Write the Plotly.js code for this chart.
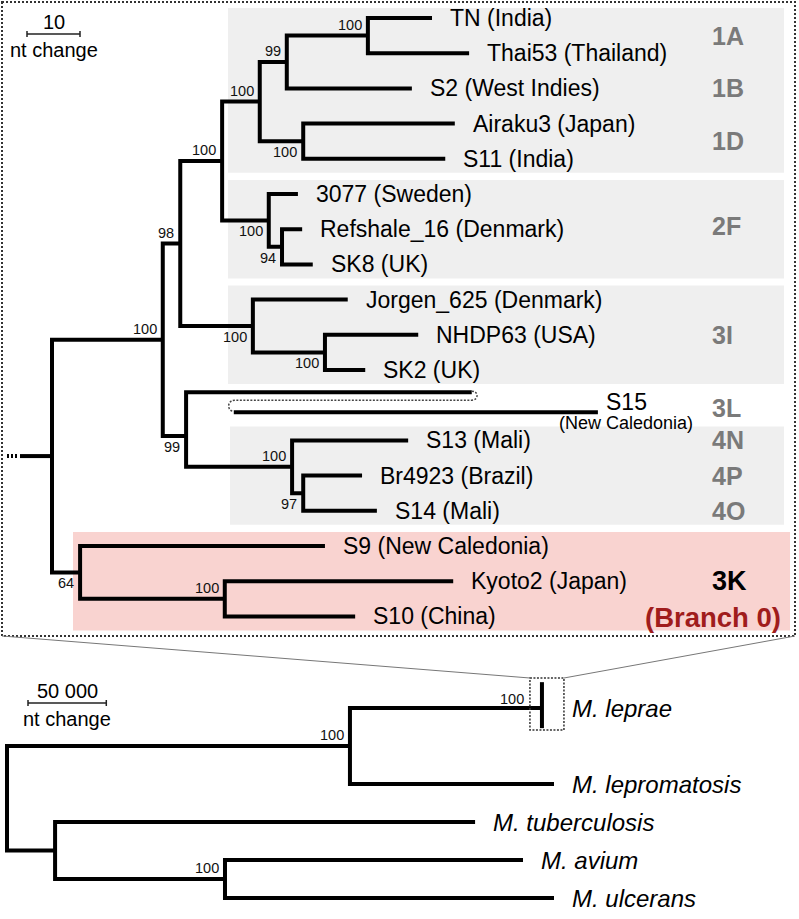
<!DOCTYPE html>
<html><head><meta charset="utf-8">
<script src="https://cdn.plot.ly/plotly-3.0.1.min.js"></script>
<style>html,body{margin:0;padding:0;background:#fff;} #chart{width:799px;height:919px;}</style>
</head><body><div id="chart"></div>
<script>
// ================= DATA =================
// Top tree: M. leprae strains (depths in nt change from the strain-tree root)
const leafNames = ['TN (India)', 'Thai53 (Thailand)', 'S2 (West Indies)', 'Airaku3 (Japan)', 'S11 (India)',
  '3077 (Sweden)', 'Refshale_16 (Denmark)', 'SK8 (UK)', 'Jorgen_625 (Denmark)', 'NHDP63 (USA)', 'SK2 (UK)',
  'S15', 'S13 (Mali)', 'Br4923 (Brazil)', 'S14 (Mali)', 'S9 (New Caledonia)', 'Kyoto2 (Japan)', 'S10 (China)'];
const leafDepth = [71.7, 78.7, 67.9, 76.0, 74.2, 46.4, 47.2, 49.2, 55.8, 69.1, 59.1, 103.0, 67.2, 58.5, 61.3, 51.5, 75.7, 57.2];
const s15Subtitle = '(New Caledonia)';
const brokenLeaf = 11;          // S15: long branch drawn broken
const s15BreakDepth = 79.2;     // end of first drawn piece
const s15ResumeDepth = 34.3;    // start of continued piece

const nodeIds      = ['R', 'A', 'B', 'C', 'D', 'E', 'F', 'G', 'H', 'I', 'J', 'K', 'L', 'M', 'N', 'O', 'P'];
const nodeDepth    = [0, 20.9, 24.2, 32.1, 39.2, 44.3, 59.6, 47.4, 40.9, 43.4, 37.9, 51.5, 25.3, 45.3, 47.4, 5.3, 32.6];
const nodeChildren = [['A','O'], ['B','L'], ['C','J'], ['D','H'], ['E','G'], ['F',2], [0,1], [3,4], [5,'I'], [6,7],
                      [8,'K'], [9,10], [11,'M'], [12,'N'], [13,14], [15,'P'], [16,17]];
const nodeSupport  = [null, 100, 98, 100, 100, 99, 100, 100, 100, 94, 100, 100, 99, 100, 97, 64, 100];

const groupNames  = ['1A', '1B', '1D', '2F', '3I', '3L', '4N', '4P', '4O', '3K'];
const groupLeaves = [[0,1], [2], [3,4], [5,6,7], [8,9,10], [11], [12], [13], [14], [15,16,17]];
const branchLabel = '(Branch 0)';
const shadeLeaves = [[0,4], [5,7], [8,10], [12,14], [15,17]];
const topScaleLen = 10;

// Bottom tree: Mycobacteria (depths in nt change)
const outNames = ['M. leprae', 'M. lepromatosis', 'M. tuberculosis', 'M. avium', 'M. ulcerans'];
const outDepth = [341600, 349300, 298900, 329500, 349300];
const outOrder = [0, 2, 3, 4, 5];
const outNodeIds      = ['root', 'Q', 'S', 'T'];
const outNodeDepth    = [0, 219000, 30700, 139200];
const outNodeChildren = [['Q','S'], [0,1], [2,'T'], [3,4]];
const outNodeSupport  = [null, 100, null, 100];
const lepraeSupport = 100;
const bottomScaleLen = 50000;

// ================= LAYOUT HELPERS =================
const W = 799, H = 919;
const FONT = 'Liberation Sans, Arial, Helvetica, sans-serif';
const TM = {x0: 52, kx: 5.3, y0: 18, ky: 35.2};          // top tree mapping (px per unit)
const BM = {x0: 7, kx: 78.3 / 50000, y0: 708, ky: 38};    // bottom tree mapping
const toPx = (m, d) => m.x0 + d * m.kx;
const toPy = (m, r) => m.y0 + r * m.ky;
const fromPx = (m, px) => (px - m.x0) / m.kx;
const fromPy = (m, py) => (py - m.y0) / m.ky;
const PX = px => px / W, PY = py => 1 - py / H;

// ---- top tree geometry ----
const tIdx = {}; nodeIds.forEach((id, i) => tIdx[id] = i);
const tRowCache = {};
function tRow(c) {
  if (typeof c === 'number') return c;
  if (tRowCache[c] !== undefined) return tRowCache[c];
  const ch = nodeChildren[tIdx[c]];
  return (tRowCache[c] = (tRow(ch[0]) + tRow(ch[1])) / 2);
}
const tDepth = c => typeof c === 'number' ? leafDepth[c] : nodeDepth[tIdx[c]];
const S15_UP = -0.37, S15_DOWN = 0.2;
const drawRow = c => c === brokenLeaf ? c + S15_UP : tRow(c);
const drawEnd = c => c === brokenLeaf ? s15BreakDepth : tDepth(c);

const tx = [], ty = [];
nodeIds.forEach((id, i) => {
  const [a, b] = nodeChildren[i];
  const d = nodeDepth[i];
  tx.push(drawEnd(a), d, d, drawEnd(b), null);
  ty.push(drawRow(a), drawRow(a), drawRow(b), drawRow(b), null);
});
// root stub
const rootRow = tRow('R');
tx.push(fromPx(TM, 20), nodeDepth[0], null);
ty.push(rootRow, rootRow, null);
// S15 continued piece
tx.push(s15ResumeDepth, leafDepth[brokenLeaf], null);
ty.push(brokenLeaf + S15_DOWN, brokenLeaf + S15_DOWN, null);

// ---- bottom tree geometry ----
const bIdx = {}; outNodeIds.forEach((id, i) => bIdx[id] = i);
const bRowCache = {};
function bRow(c) {
  if (typeof c === 'number') return outOrder[c];
  if (bRowCache[c] !== undefined) return bRowCache[c];
  const ch = outNodeChildren[bIdx[c]];
  return (bRowCache[c] = (bRow(ch[0]) + bRow(ch[1])) / 2);
}
const bDepth = c => typeof c === 'number' ? outDepth[c] : outNodeDepth[bIdx[c]];
const bx = [], by = [];
outNodeIds.forEach((id, i) => {
  const [a, b] = outNodeChildren[i];
  const d = outNodeDepth[i];
  bx.push(bDepth(a), d, d, bDepth(b), null);
  by.push(bRow(a), bRow(a), bRow(b), bRow(b), null);
});
// collapsed M. leprae clade bar
bx.push(outDepth[0], outDepth[0], null);
by.push(outOrder[0] - 0.68, outOrder[0] + 0.53, null);

// ---- scale bars ----
const tsX = fromPx(TM, 27), tsY = fromPy(TM, 34), tTick = 3 / TM.ky;
const bsX = fromPx(BM, 28), bsY = fromPy(BM, 703), bTick = 3 / BM.ky;

const lineStyle = {color: '#000', width: 4};
const traces = [
  {type: 'scatter', mode: 'lines', x: tx, y: ty, xaxis: 'x', yaxis: 'y', line: lineStyle, hoverinfo: 'skip'},
  {type: 'scatter', mode: 'lines', x: [fromPx(TM, 7), fromPx(TM, 19)], y: [rootRow, rootRow], xaxis: 'x', yaxis: 'y',
   line: {color: '#000', width: 4, dash: '2px,2px'}, hoverinfo: 'skip'},
  {type: 'scatter', mode: 'lines', x: bx, y: by, xaxis: 'x2', yaxis: 'y2', line: lineStyle, hoverinfo: 'skip'},
  {type: 'scatter', mode: 'lines', xaxis: 'x', yaxis: 'y', hoverinfo: 'skip', line: {color: '#222', width: 1.5},
   x: [tsX, tsX + topScaleLen, null, tsX, tsX, null, tsX + topScaleLen, tsX + topScaleLen],
   y: [tsY, tsY, null, tsY - tTick, tsY + tTick, null, tsY - tTick, tsY + tTick]},
  {type: 'scatter', mode: 'lines', xaxis: 'x2', yaxis: 'y2', hoverinfo: 'skip', line: {color: '#222', width: 1.5},
   x: [bsX, bsX + bottomScaleLen, null, bsX, bsX, null, bsX + bottomScaleLen, bsX + bottomScaleLen],
   y: [bsY, bsY, null, bsY - bTick, bsY + bTick, null, bsY - bTick, bsY + bTick]}
];

// ---- shapes ----
const shapes = [];
const shadeX = [[228, 784], [228, 784], [228, 784], [230, 784], [73, 790]];
const shadeCol = ['#efefef', '#efefef', '#efefef', '#efefef', '#f9d3d0'];
const shadePad = [[10, 14], [14, 14], [14, 14], [14, 14], [14, 14]];
shadeLeaves.forEach((g, i) => {
  shapes.push({type: 'rect', xref: 'paper', yref: 'paper', layer: 'below',
    x0: PX(shadeX[i][0]), x1: PX(shadeX[i][1]),
    y0: PY(toPy(TM, g[0]) - shadePad[i][0]), y1: PY(toPy(TM, g[1]) + shadePad[i][1]),
    fillcolor: shadeCol[i], line: {width: 0}});
});
// outer dotted frame
const FR = {l: 2, t: 2, r: 795, b: 636};
shapes.push({type: 'rect', xref: 'paper', yref: 'paper', x0: PX(FR.l), x1: PX(FR.r), y0: PY(FR.t), y1: PY(FR.b),
  line: {color: '#333', width: 2, dash: '2px,2px'}, fillcolor: 'rgba(0,0,0,0)'});
// dotted box around collapsed M. leprae
const lpx = toPx(BM, outDepth[0]), lpy = toPy(BM, outOrder[0]);
const LB = {l: lpx - 12, r: lpx + 22, t: lpy - 30, b: lpy + 22};
shapes.push({type: 'rect', xref: 'paper', yref: 'paper', x0: PX(LB.l), x1: PX(LB.r), y0: PY(LB.t), y1: PY(LB.b),
  line: {color: '#333', width: 1.5, dash: '2px,1.5px'}, fillcolor: 'rgba(0,0,0,0)'});
// zoom funnel lines
shapes.push({type: 'line', xref: 'paper', yref: 'paper', x0: PX(FR.l), y0: PY(FR.b), x1: PX(LB.l), y1: PY(LB.t),
  line: {color: '#777', width: 1}});
shapes.push({type: 'line', xref: 'paper', yref: 'paper', x0: PX(FR.r), y0: PY(FR.b), x1: PX(LB.r), y1: PY(LB.t),
  line: {color: '#777', width: 1}});
// S15 broken-branch dotted loop
const bX = toPx(TM, s15BreakDepth), rX = toPx(TM, s15ResumeDepth);
const uY = toPy(TM, brokenLeaf + S15_UP), lY = toPy(TM, brokenLeaf + S15_DOWN);
const P = (x, y) => PX(x).toFixed(5) + ',' + PY(y).toFixed(5);
shapes.push({type: 'path', xref: 'paper', yref: 'paper',
  path: 'M' + P(bX, uY - 1) + ' C' + P(bX + 7, uY - 1) + ' ' + P(bX + 7, uY + 8) + ' ' + P(bX, uY + 8) +
        ' L' + P(rX + 1, uY + 8) + ' C' + P(rX - 7, uY + 8) + ' ' + P(rX - 7, lY - 1) + ' ' + P(rX, lY - 1),
  line: {color: '#444', width: 1.5, dash: '2px,1.5px'}});

// ---- annotations ----
const ann = [];
const txt = (o) => Object.assign({showarrow: false, xref: 'x', yref: 'y'}, o);
leafNames.forEach((n, i) => {
  if (i === brokenLeaf) {
    ann.push(txt({x: leafDepth[i], y: i, text: n, xanchor: 'left', xshift: 6, yshift: 3, font: {size: 23, color: '#000'}}));
    ann.push(txt({x: leafDepth[i], y: i, text: s15Subtitle, xanchor: 'left', xshift: -41, yshift: -18, font: {size: 18, color: '#000'}}));
  } else {
    ann.push(txt({x: leafDepth[i], y: i, text: n, xanchor: 'left', xshift: 16, font: {size: 23, color: '#000'}}));
  }
});
const supSide = [0, -1, -1, -1, -1, -1, -1, 1, 1, 1, 1, 1, 1, -1, 1, 1, -1];  // -1 above, +1 below
nodeIds.forEach((id, i) => {
  if (nodeSupport[i] == null) return;
  ann.push(txt({x: nodeDepth[i], y: tRow(id), text: String(nodeSupport[i]), xanchor: 'right', xshift: -4,
    yshift: -supSide[i] * 11, font: {size: 14.5, color: '#111'}}));
});
groupNames.forEach((g, i) => {
  const rows = groupLeaves[i];
  const r = rows.reduce((s, v) => s + v, 0) / rows.length;
  const isK = g === '3K';
  ann.push({showarrow: false, xref: 'paper', yref: 'y', x: PX(710), y: r, xanchor: 'left',
    yshift: g === '3L' ? -3 : (g === '2F' ? 3 : 0),
    text: '<b>' + g + '</b>', font: {size: isK ? 27 : 25, color: isK ? '#000' : '#7a7a7a'}});
});
ann.push({showarrow: false, xref: 'paper', yref: 'y', x: PX(643), y: 17, xanchor: 'left', yshift: -1,
  text: '<b>' + branchLabel + '</b>', font: {size: 27.5, color: '#a01c1c'}});
// scale bar labels
ann.push(txt({x: tsX + topScaleLen / 2, y: tsY, text: String(topScaleLen), yshift: 12, font: {size: 20, color: '#000'}}));
ann.push(txt({x: tsX + topScaleLen / 2, y: tsY, text: 'nt change', yshift: -16, font: {size: 20, color: '#000'}}));
const t2 = (o) => Object.assign({showarrow: false, xref: 'x2', yref: 'y2'}, o);
ann.push(t2({x: bsX + bottomScaleLen / 2, y: bsY, text: '50 000', yshift: 12, font: {size: 20, color: '#000'}}));
ann.push(t2({x: bsX + bottomScaleLen / 2, y: bsY, text: 'nt change', yshift: -16, font: {size: 20, color: '#000'}}));
// bottom tree labels
outNames.forEach((n, i) => {
  ann.push(t2({x: outDepth[i], y: outOrder[i], text: '<i>' + n + '</i>', xanchor: 'left', xshift: i === 0 ? 28 : 16,
    font: {size: 24, color: '#000'}}));
});
outNodeIds.forEach((id, i) => {
  if (outNodeSupport[i] == null) return;
  ann.push(t2({x: outNodeDepth[i], y: bRow(id), text: String(outNodeSupport[i]), xanchor: 'right', xshift: -4, yshift: 11,
    font: {size: 14.5, color: '#111'}}));
});
ann.push(t2({x: outDepth[0], y: outOrder[0], text: String(lepraeSupport), xanchor: 'right', xshift: -16, yshift: 9,
  font: {size: 14.5, color: '#111'}}));

const layout = {
  width: W, height: H, margin: {l: 0, r: 0, t: 0, b: 0, pad: 0},
  paper_bgcolor: '#fff', plot_bgcolor: 'rgba(0,0,0,0)', showlegend: false,
  font: {family: FONT, color: '#000'},
  xaxis: {domain: [0, 1], range: [fromPx(TM, 0), fromPx(TM, W)], visible: false, fixedrange: true},
  yaxis: {domain: [0, 1], range: [fromPy(TM, H), fromPy(TM, 0)], visible: false, fixedrange: true},
  xaxis2: {overlaying: 'x', range: [fromPx(BM, 0), fromPx(BM, W)], visible: false, fixedrange: true},
  yaxis2: {overlaying: 'y', range: [fromPy(BM, H), fromPy(BM, 0)], visible: false, fixedrange: true},
  shapes: shapes, annotations: ann
};
Plotly.newPlot('chart', traces, layout, {displayModeBar: false, staticPlot: true});
</script></body></html>
